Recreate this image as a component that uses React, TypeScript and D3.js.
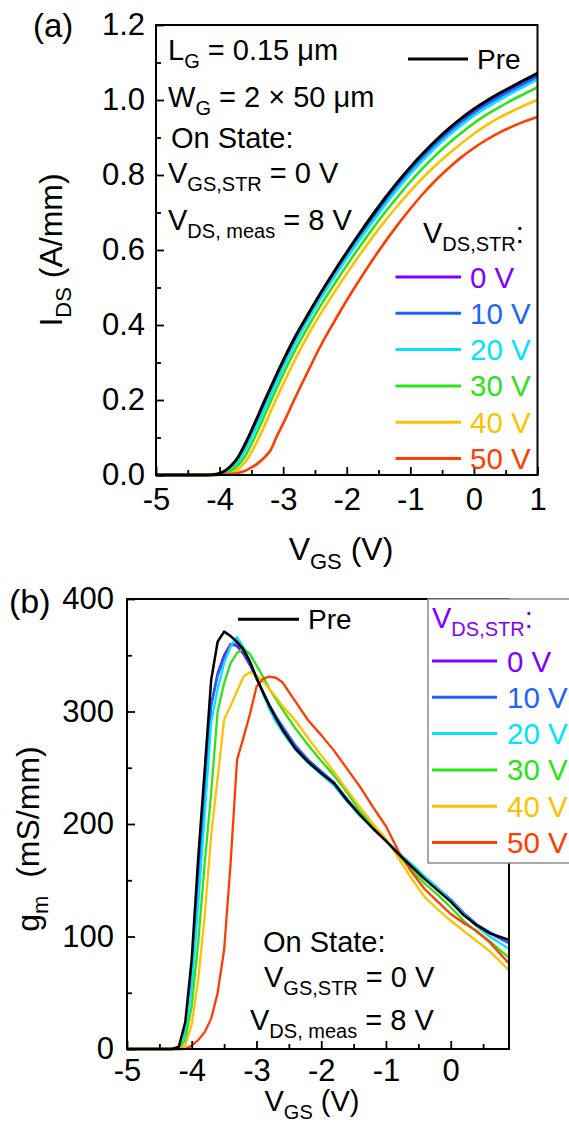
import { useEffect, useRef } from 'react';
import * as d3 from 'd3';

const FONT = 'Liberation Sans, Arial, Helvetica, sans-serif';

// ---- (a) transfer curves: I_DS (A/mm) vs V_GS (V)
const vgsIds = [-5, -4.5, -4.2, -4.1, -4.0, -3.9, -3.8, -3.7, -3.6, -3.5, -3.4, -3.3, -3.2, -3.1, -3.0, -2.8, -2.6, -2.4, -2.2, -2.0, -1.8, -1.6, -1.4, -1.2, -1.0, -0.8, -0.6, -0.4, -0.2, 0, 0.2, 0.4, 0.6, 0.8, 1.0];
const idsPre = [0, 0, 0, 0.001, 0.004, 0.013, 0.028, 0.05, 0.082, 0.118, 0.156, 0.195, 0.232, 0.269, 0.305, 0.372, 0.431, 0.488, 0.542, 0.594, 0.644, 0.692, 0.738, 0.781, 0.821, 0.858, 0.892, 0.923, 0.951, 0.976, 0.998, 1.018, 1.036, 1.054, 1.071];
const ids0 = [0, 0, 0, 0.001, 0.003, 0.011, 0.025, 0.046, 0.077, 0.112, 0.15, 0.189, 0.227, 0.263, 0.3, 0.367, 0.427, 0.484, 0.538, 0.59, 0.64, 0.688, 0.734, 0.777, 0.817, 0.854, 0.888, 0.919, 0.947, 0.972, 0.994, 1.014, 1.032, 1.05, 1.068];
const ids10 = [0, 0, 0, 0, 0.002, 0.01, 0.022, 0.043, 0.072, 0.107, 0.144, 0.183, 0.221, 0.258, 0.294, 0.362, 0.422, 0.479, 0.532, 0.584, 0.634, 0.682, 0.728, 0.771, 0.811, 0.848, 0.882, 0.913, 0.941, 0.966, 0.988, 1.008, 1.026, 1.044, 1.062];
const ids20 = [0, 0, 0, 0, 0.002, 0.008, 0.02, 0.039, 0.066, 0.1, 0.137, 0.175, 0.213, 0.25, 0.287, 0.355, 0.416, 0.474, 0.527, 0.578, 0.627, 0.674, 0.72, 0.763, 0.803, 0.84, 0.874, 0.905, 0.933, 0.958, 0.98, 1.0, 1.019, 1.037, 1.055];
const ids30 = [0, 0, 0, 0, 0.001, 0.004, 0.013, 0.028, 0.05, 0.082, 0.118, 0.156, 0.195, 0.232, 0.269, 0.337, 0.398, 0.455, 0.508, 0.559, 0.608, 0.655, 0.7, 0.742, 0.782, 0.819, 0.853, 0.884, 0.912, 0.938, 0.961, 0.981, 1.0, 1.017, 1.034];
const ids40 = [0, 0, 0, 0, 0, 0.002, 0.006, 0.017, 0.034, 0.06, 0.093, 0.129, 0.168, 0.206, 0.242, 0.312, 0.376, 0.433, 0.486, 0.537, 0.586, 0.633, 0.677, 0.718, 0.757, 0.793, 0.826, 0.856, 0.884, 0.91, 0.933, 0.953, 0.97, 0.986, 1.0];
const ids50 = [0, 0, 0, 0, 0.001, 0.002, 0.003, 0.006, 0.011, 0.02, 0.031, 0.046, 0.066, 0.103, 0.137, 0.21, 0.28, 0.348, 0.408, 0.466, 0.52, 0.572, 0.621, 0.667, 0.71, 0.75, 0.786, 0.818, 0.847, 0.872, 0.894, 0.913, 0.929, 0.943, 0.955];

// ---- (b) transconductance: g_m (mS/mm) vs V_GS (V)
const vgsGm = [-5, -4.5, -4.3, -4.2, -4.1, -4.0, -3.9, -3.8, -3.7, -3.6, -3.5, -3.4, -3.3, -3.2, -3.1, -3.0, -2.9, -2.8, -2.7, -2.6, -2.4, -2.2, -2.0, -1.8, -1.6, -1.4, -1.2, -1.0, -0.8, -0.6, -0.4, -0.2, 0, 0.2, 0.4, 0.6, 0.9];
const gmPre = [0, 0, 0, 2, 24, 80, 170, 248, 328, 362, 371, 367, 362, 355, 344, 330, 317, 305, 294, 284, 267, 255, 245, 236, 221, 208, 196, 185, 173, 162, 151, 141, 131, 119, 110, 103, 97];
const gm0 = [0, 0, 0, 1, 20, 68, 150, 232, 306, 334, 350, 360, 358, 351, 341, 329, 317, 305, 295, 286, 269, 256, 246, 236, 222, 208, 196, 185, 173, 163, 152, 142, 132, 120, 110, 103, 94];
const gm10 = [0, 0, 0, 1, 19, 66, 148, 230, 305, 332, 347, 358, 361, 353, 342, 330, 318, 306, 296, 287, 270, 257, 247, 237, 222, 208, 197, 185, 174, 164, 153, 143, 133, 121, 111, 104, 94];
const gm20 = [0, 0, 0, 0, 14, 55, 128, 208, 290, 320, 343, 358, 366, 357, 345, 330, 316, 302, 291, 282, 266, 254, 244, 234, 220, 207, 196, 185, 174, 164, 153, 143, 132, 120, 109, 100, 89];
const gm30 = [0, 0, 0, 0, 8, 38, 95, 165, 228, 300, 325, 343, 352, 356, 351, 341, 331, 320, 311, 302, 285, 270, 256, 243, 228, 211, 198, 186, 172, 159, 147, 137, 126, 114, 104, 96, 81];
const gm40 = [0, 0, 0, 0, 3, 22, 62, 118, 190, 241, 293, 305, 318, 331, 335, 332, 327, 320, 313, 305, 292, 276, 261, 246, 230, 215, 200, 187, 169, 151, 135, 124, 114, 105, 96, 87, 70];
const gm50 = [0, 0, 0, 0, 0, 3, 8, 15, 27, 50, 88, 165, 257, 277, 298, 322, 329, 331, 330, 326, 309, 292, 279, 265, 249, 233, 215, 198, 175, 157, 142, 131, 120, 112, 105, 95, 76];

const stressLabels = ['0 V', '10 V', '20 V', '30 V', '40 V', '50 V'];
const stressColors = ['#7f00ff', '#1f63ff', '#00e4ff', '#2ee21a', '#ffc000', '#ff3d00'];

const xTicksA = [-5, -4, -3, -2, -1, 0, 1];
const yTicksA = [0, 0.2, 0.4, 0.6, 0.8, 1.0, 1.2];
const xTicksB = [-5, -4, -3, -2, -1, 0];
const yTicksB = [0, 100, 200, 300, 400];

type Part = { t: string; sub?: boolean };

function richText(parent: any, x: number, y: number, parts: Part[], size: number, fill: string, anchor = 'start', rotate = false) {
  const t = parent
    .append('text')
    .attr('font-family', FONT)
    .attr('font-size', size)
    .attr('fill', fill)
    .attr('text-anchor', anchor)
    .style('white-space', 'pre');
  if (rotate) t.attr('transform', `translate(${x},${y}) rotate(-90)`);
  else t.attr('x', x).attr('y', y);
  const subShift = Math.round(size * 0.27);
  let shift = 0;
  parts.forEach((p) => {
    const s = t.append('tspan').text(p.t);
    const target = p.sub ? subShift : 0;
    if (target !== shift) {
      s.attr('dy', target - shift);
      shift = target;
    }
    if (p.sub) s.attr('font-size', Math.round(size * 0.69));
  });
  return t;
}

function styleAxis(g: any, size: number) {
  g.select('.domain').remove();
  g.selectAll('line').attr('stroke', '#000').attr('stroke-width', 1.8);
  g.selectAll('text').attr('font-family', FONT).attr('font-size', size).attr('fill', '#000');
}

function drawAxes(svg: any, x: any, y: any, o: any) {
  const [x0, x1] = x.range();
  const [y1, y0] = y.range();
  const bottom = svg.append('g').attr('transform', `translate(0,${y1})`);
  bottom.call(d3.axisBottom(x).tickValues(o.xMinor).tickSizeInner(-5).tickSizeOuter(0).tickFormat(() => ''));
  styleAxis(bottom, 31);
  const bottomMajor = svg.append('g').attr('transform', `translate(0,${y1})`);
  bottomMajor.call(d3.axisBottom(x).tickValues(o.xMajor).tickSizeInner(-8).tickSizeOuter(0).tickPadding(o.xPad).tickFormat((d: any) => String(d)));
  styleAxis(bottomMajor, 31);

  const left = svg.append('g').attr('transform', `translate(${x0},0)`);
  left.call(d3.axisLeft(y).tickValues(o.yMinor).tickSizeInner(-5).tickSizeOuter(0).tickFormat(() => ''));
  styleAxis(left, 31);
  const leftMajor = svg.append('g').attr('transform', `translate(${x0},0)`);
  leftMajor.call(d3.axisLeft(y).tickValues(o.yMajor).tickSizeInner(-8).tickSizeOuter(0).tickPadding(o.yPad).tickFormat(o.yFmt));
  styleAxis(leftMajor, 31);

  svg.append('rect')
    .attr('x', x0).attr('y', y0)
    .attr('width', x1 - x0).attr('height', y1 - y0)
    .attr('fill', 'none').attr('stroke', '#000').attr('stroke-width', 2);
}

function App() {
  const svgRef = useRef<SVGSVGElement>(null);

  useEffect(() => {
    const svg = d3.select(svgRef.current);
    svg.selectAll('*').remove();

    // ================= panel (a)
    const xA = d3.scaleLinear().domain([-5, 1]).range([156, 537.5]);
    const yA = d3.scaleLinear().domain([0, 1.2]).range([475, 25]);
    const lineA = d3.line<number>().x((_, i) => xA(vgsIds[i])).y((d) => yA(d)).curve(d3.curveMonotoneX);
    const seriesA = [ids0, ids10, ids20, ids30, ids40, ids50];
    seriesA.forEach((s, i) => {
      svg.append('path').attr('d', lineA(s)).attr('fill', 'none').attr('stroke', stressColors[i]).attr('stroke-width', 2.6);
    });
    svg.append('path').attr('d', lineA(idsPre)).attr('fill', 'none').attr('stroke', '#000').attr('stroke-width', 3);

    drawAxes(svg, xA, yA, {
      xMajor: xTicksA,
      xMinor: d3.range(-4.5, 1, 1),
      yMajor: yTicksA,
      yMinor: d3.range(0.1, 1.2, 0.2),
      xPad: 13,
      yPad: 11,
      yFmt: (d: any) => d.toFixed(1),
    });

    richText(svg, 33, 37, [{ t: '(a)' }], 33, '#000');
    richText(svg, 341, 560, [{ t: 'V' }, { t: 'GS', sub: true }, { t: ' (V)' }], 32, '#000', 'middle');
    richText(svg, 62, 250, [{ t: 'I' }, { t: 'DS', sub: true }, { t: ' (A/mm)' }], 32, '#000', 'middle', true);

    richText(svg, 168, 60, [{ t: 'L' }, { t: 'G', sub: true }, { t: ' = 0.15 \u03bcm' }], 29, '#000');
    richText(svg, 168, 107, [{ t: 'W' }, { t: 'G', sub: true }, { t: ' = 2 \u00d7 50 \u03bcm' }], 29, '#000');
    richText(svg, 171, 148, [{ t: 'On State:' }], 29, '#000');
    richText(svg, 168, 183, [{ t: 'V' }, { t: 'GS,STR', sub: true }, { t: ' = 0 V' }], 29, '#000');
    richText(svg, 168, 230, [{ t: 'V' }, { t: 'DS, meas', sub: true }, { t: ' = 8 V' }], 29, '#000');

    svg.append('line').attr('x1', 408).attr('x2', 468).attr('y1', 59).attr('y2', 59).attr('stroke', '#000').attr('stroke-width', 3);
    richText(svg, 477, 69, [{ t: 'Pre' }], 28, '#000');
    richText(svg, 423, 243, [{ t: 'V' }, { t: 'DS,STR', sub: true }, { t: ':' }], 29, '#000');
    stressLabels.forEach((lab, i) => {
      const yy = 277 + i * 36.3;
      svg.append('line').attr('x1', 395.5).attr('x2', 461).attr('y1', yy).attr('y2', yy).attr('stroke', stressColors[i]).attr('stroke-width', 3);
      richText(svg, 470, yy + 10.5, [{ t: lab }], 29.5, stressColors[i]);
    });

    // ================= panel (b)
    const xB = d3.scaleLinear().domain([-5, 0.9]).range([127, 509]);
    const yB = d3.scaleLinear().domain([0, 400]).range([1049, 599]);
    const lineB = d3.line<number>().x((_, i) => xB(vgsGm[i])).y((d) => yB(d));
    const seriesB = [gm0, gm10, gm20, gm30, gm40, gm50];
    seriesB.forEach((s, i) => {
      svg.append('path').attr('d', lineB(s)).attr('fill', 'none').attr('stroke', stressColors[i]).attr('stroke-width', 2.3).attr('stroke-linejoin', 'round');
    });
    svg.append('path').attr('d', lineB(gmPre)).attr('fill', 'none').attr('stroke', '#000').attr('stroke-width', 2.5).attr('stroke-linejoin', 'round');

    drawAxes(svg, xB, yB, {
      xMajor: xTicksB,
      xMinor: d3.range(-4.5, 0.9, 1),
      yMajor: yTicksB,
      yMinor: d3.range(50, 400, 100),
      xPad: 10,
      yPad: 13,
      yFmt: (d: any) => String(d),
    });

    richText(svg, 9, 613, [{ t: '(b)' }], 34, '#000');
    richText(svg, 312, 1111, [{ t: 'V' }, { t: 'GS', sub: true }, { t: ' (V)' }], 29, '#000', 'middle');
    richText(svg, 39, 839, [{ t: 'g' }, { t: 'm', sub: true }, { t: '  (mS/mm)' }], 32, '#000', 'middle', true);

    richText(svg, 263, 952, [{ t: 'On State:' }], 29, '#000');
    richText(svg, 264, 987, [{ t: 'V' }, { t: 'GS,STR', sub: true }, { t: ' = 0 V' }], 29, '#000');
    richText(svg, 250, 1030, [{ t: 'V' }, { t: 'DS, meas', sub: true }, { t: ' = 8 V' }], 29, '#000');

    svg.append('line').attr('x1', 238).attr('x2', 299).attr('y1', 619.3).attr('y2', 619.3).attr('stroke', '#000').attr('stroke-width', 3);
    richText(svg, 308, 629, [{ t: 'Pre' }], 28, '#000');

    svg.append('rect').attr('x', 428).attr('y', 599).attr('width', 200).attr('height', 264)
      .attr('fill', '#fff').attr('stroke', '#8c8c8c').attr('stroke-width', 1.5);
    richText(svg, 432, 628, [{ t: 'V' }, { t: 'DS,STR', sub: true }, { t: ':' }], 29, stressColors[0]);
    stressLabels.forEach((lab, i) => {
      const yy = 661 + i * 36.3;
      svg.append('line').attr('x1', 432).attr('x2', 497).attr('y1', yy).attr('y2', yy).attr('stroke', stressColors[i]).attr('stroke-width', 3);
      richText(svg, 507, yy + 10.5, [{ t: lab }], 29.5, stressColors[i]);
    });
  }, []);

  return (
    <svg
      ref={svgRef}
      width={569}
      height={1127}
      style={{ position: 'absolute', left: 0, top: 0, background: '#fff' }}
    />
  );
}

export default App;
